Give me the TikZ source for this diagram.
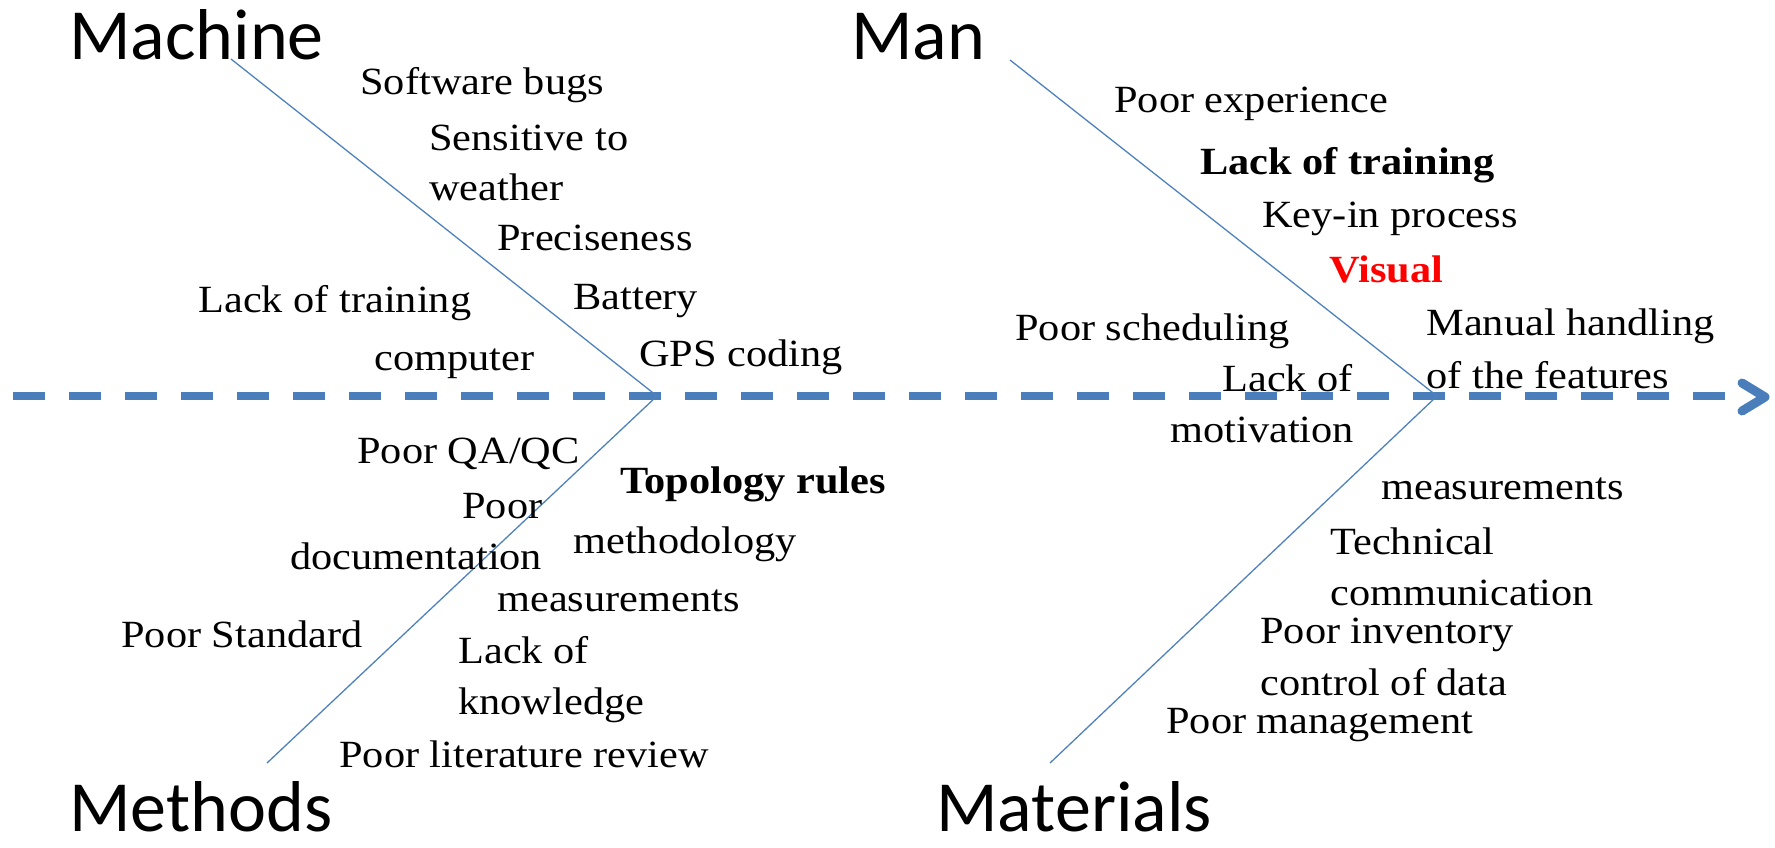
\documentclass[tikz,border=0pt]{standalone}
\usepackage{fontspec}
\setmainfont{Liberation Serif}[FakeStretch=1.1]
\newfontfamily\titlefont{Carlito}
\definecolor{spineblue}{HTML}{4A7EBB}
\definecolor{boneblue}{HTML}{4F81BD}
\begin{document}
\begin{tikzpicture}[x=0.5pt,y=-0.5pt,
  cause/.style={anchor=base west, inner sep=0pt, font=\fontsize{19.25}{23}\selectfont},
  keycause/.style={cause, font=\fontsize{19.25}{23}\selectfont\bfseries},
  category/.style={anchor=base west, inner sep=0pt, font=\titlefont\fontsize{36}{40}\selectfont},
  bone/.style={draw=boneblue, line width=0.65pt},
  spine/.style={draw=spineblue, line width=3.75pt, dash pattern=on 16pt off 12pt},
  chevron/.style={draw=spineblue, line width=4.5pt, line cap=round, line join=round}
]
\useasboundingbox (0,0) rectangle (1775,847);

% category headings
\node[category] (machine)   at (69,59)   {Machine};
\node[category] (man)       at (851,59)  {Man};
\node[category] (methods)   at (69,831)  {Methods};
\node[category] (materials) at (936,831) {Materials};

% spine with open chevron head
\coordinate (tail) at (13,396);
\coordinate (spineEnd) at (1730,396);
\coordinate (head) at (1765,397);
\draw[spine] (tail) -- (spineEnd);
\draw[chevron] ([shift={(-23,-14)}]head) -- (head) -- ([shift={(-23,14)}]head);

% bones
\coordinate (j1) at (657,396);
\coordinate (j2) at (1437,396);
\coordinate (machineEnd)   at (231,59);
\coordinate (methodsEnd)   at (267,763);
\coordinate (manEnd)       at (1010,60);
\coordinate (materialsEnd) at (1050,763);
\draw[bone] (machineEnd) -- (j1) -- (methodsEnd);
\draw[bone] (manEnd) -- (j2) -- (materialsEnd);

% Machine causes
\node[cause] (m1) at (360,94)  {Software bugs};
\node[cause] (m2) at (429,150) {Sensitive to};
\node[cause] (m3) at (429,200) {weather};
\node[cause] (m4) at (497,250) {Preciseness};
\node[cause] (m5) at (198,312) {Lack of training};
\node[cause] (m6) at (573,309) {Battery};
\node[cause] (m7) at (374,370) {computer};
\node[cause] (m8) at (639,366) {GPS coding};

% Man causes
\node[cause]    (h1) at (1114,112) {Poor experience};
\node[keycause] (h2) at (1200,174) {Lack of training};
\node[cause]    (h3) at (1262,227) {Key-in process};
\node[keycause, text=red] (h4) at (1329,282) {Visual};
\node[cause]    (h5) at (1015,340) {Poor scheduling};
\node[cause]    (h6) at (1426,335) {Manual handling};
\node[cause]    (h7) at (1426,388) {of the features};
\node[cause]    (h8) at (1222,391) {Lack of};
\node[cause]    (h9) at (1170,442) {motivation};

% Methods causes
\node[cause]    (d1) at (357,463) {Poor QA/QC};
\node[keycause] (d2) at (620,493) {Topology rules};
\node[cause]    (d3) at (462,518) {Poor};
\node[cause]    (d4) at (290,569) {documentation};
\node[cause]    (d5) at (573,553) {methodology};
\node[cause]    (d6) at (497,611) {measurements};
\node[cause]    (d7) at (121,647) {Poor Standard};
\node[cause]    (d8) at (458,663) {Lack of};
\node[cause]    (d9) at (458,714) {knowledge};
\node[cause]    (d10) at (339,767) {Poor literature review};

% Materials causes
\node[cause] (t1) at (1381,499) {measurements};
\node[cause] (t2) at (1330,554) {Technical};
\node[cause] (t3) at (1330,605) {communication};
\node[cause] (t4) at (1260,643) {Poor inventory};
\node[cause] (t5) at (1260,695) {control of data};
\node[cause] (t6) at (1166,733) {Poor management};
\end{tikzpicture}
\end{document}
